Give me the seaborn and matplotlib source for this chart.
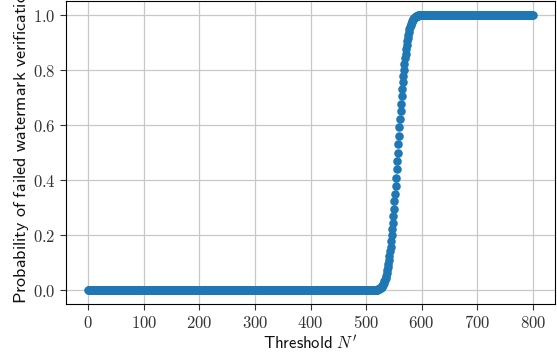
import matplotlib
matplotlib.use("Agg")
import matplotlib.pyplot as plt
from matplotlib.ticker import FuncFormatter, MultipleLocator
import seaborn as sns
import pandas as pd

# ---- data ----
threshold = list(range(0, 801))
prob_low = [0.0] * 517                      # N' = 0 .. 516
prob_transition = [                          # N' = 517 .. 597
    0.0010, 0.0013, 0.0017, 0.0022, 0.0028, 0.0035, 0.0045, 0.0056, 0.0069, 0.0085,
    0.0105, 0.0128, 0.0156, 0.0189, 0.0228, 0.0272, 0.0324, 0.0384, 0.0453, 0.0531,
    0.0620, 0.0719, 0.0831, 0.0955, 0.1092, 0.1243, 0.1408, 0.1587, 0.1780, 0.1987,
    0.2209, 0.2444, 0.2691, 0.2951, 0.3222, 0.3503, 0.3791, 0.4087, 0.4389, 0.4693,
    0.5000,
    0.5307, 0.5611, 0.5913, 0.6209, 0.6497, 0.6778, 0.7049, 0.7309, 0.7556, 0.7791,
    0.8013, 0.8220, 0.8413, 0.8592, 0.8757, 0.8908, 0.9045, 0.9169, 0.9281, 0.9380,
    0.9469, 0.9547, 0.9616, 0.9676, 0.9728, 0.9772, 0.9811, 0.9844, 0.9872, 0.9895,
    0.9915, 0.9931, 0.9944, 0.9955, 0.9965, 0.9972, 0.9978, 0.9983, 0.9987, 0.9990,
]
prob_high = [1.0] * 203                      # N' = 598 .. 800
probability = prob_low + prob_transition + prob_high

df = pd.DataFrame({"threshold": threshold, "probability": probability})

plt.rcParams["mathtext.fontset"] = "cm"
plt.rcParams["font.size"] = 12

fig = plt.figure(figsize=(5.57, 3.56), dpi=100)
ax = fig.add_axes([66 / 557, 52 / 356, 489 / 557, 303 / 356])

sns.scatterplot(data=df, x="threshold", y="probability", ax=ax,
                color="#1f77b4", s=38, linewidth=0, zorder=3)

ax.set_xlim(-40, 840)
ax.set_ylim(-0.05, 1.05)
ax.xaxis.set_major_locator(MultipleLocator(100))
ax.yaxis.set_major_locator(MultipleLocator(0.2))
ax.xaxis.set_major_formatter(FuncFormatter(lambda v, _: f"${v:.0f}$"))
ax.yaxis.set_major_formatter(FuncFormatter(lambda v, _: f"${v:.1f}$"))
ax.tick_params(labelsize=12, length=4, color="#333333", labelcolor="#333333")
ax.grid(True, color="#c8c8c8", linewidth=0.9)
ax.set_axisbelow(True)

ax.set_xlabel(r"$\mathsf{Threshold}\ N'$", fontsize=12, labelpad=2, color="#111111")
ax.set_ylabel(r"$\mathsf{Probability\ of\ failed\ watermark\ verification}$",
              fontsize=13, loc="bottom", labelpad=1, color="#111111")

fig.savefig("out.png", dpi=100)
